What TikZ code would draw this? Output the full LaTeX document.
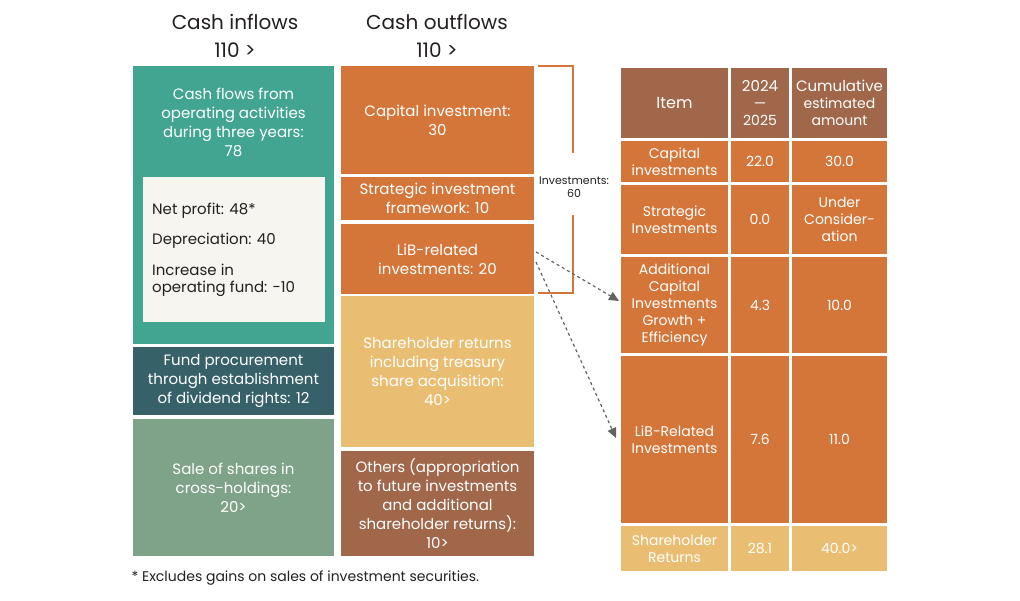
\documentclass[tikz,border=0pt]{standalone}
\usepackage{fontspec}
\setmainfont{Poppins}
\usetikzlibrary{arrows.meta}
\definecolor{teal1}{HTML}{42A592}
\definecolor{dteal}{HTML}{376169}
\definecolor{sage}{HTML}{7FA388}
\definecolor{orng}{HTML}{D4763A}
\definecolor{sand}{HTML}{E9BE72}
\definecolor{brwn}{HTML}{A0674B}
\definecolor{cream}{HTML}{F7F5EF}
\definecolor{ink}{HTML}{231F20}
\tikzset{
 box/.style={draw=none,inner sep=0pt,text=white,align=center,font=\fontsize{15}{19}\selectfont},
 tbl/.style={inner sep=0pt,text=white,align=center,font=\fontsize{14}{17}\selectfont},
 hdr/.style={text=ink,font=\fontsize{20}{24}\selectfont},
 darr/.style={draw=ink!70,dashed,line width=1.2pt,-{Triangle[length=10pt,width=9pt]}}
}
\newcommand{\bx}[6]{\fill[#5] (#1,#2) rectangle (#3,#4);\node[box] at ({(#1+#3)/2},{(#2+#4)/2}) {#6};}
\newcommand{\tb}[6]{\fill[#5] (#1,#2) rectangle (#3,#4);\node[tbl] at ({(#1+#3)/2},{(#2+#4)/2}) {#6};}
\begin{document}
\begin{tikzpicture}[x=1pt,y=-1pt]
\useasboundingbox (0,0) rectangle (1020,600);
\node[hdr] (hin) at (235,22) {Cash inflows};
\node[hdr] (hin2) at (235,50) {110 >};
\node[hdr] (hout) at (437,22) {Cash outflows};
\node[hdr] (hout2) at (437,50) {110 >};
% left column
\fill[teal1] (133,66) rectangle (334,344);
\node[box] (op) at (233.5,122) {Cash flows from\\operating activities\\during three years:\\78};
\fill[cream] (143,177) rectangle (325,322);
\node[box,text=ink,align=left,anchor=west,font=\fontsize{15}{17}\selectfont] (np) at (152,211) {Net profit: 48*};
\node[box,text=ink,align=left,anchor=west,font=\fontsize{15}{17}\selectfont] (dp) at (152,241) {Depreciation: 40};
\node[box,text=ink,align=left,anchor=west,font=\fontsize{15}{17}\selectfont] (inc) at (152,280) {Increase in\\operating fund: -10};
\bx{133}{347}{334}{415}{dteal}{Fund procurement\\through establishment\\of dividend rights: 12}
\bx{133}{419}{334}{556}{sage}{Sale of shares in\\cross-holdings:\\20>}
% right column
\bx{341}{66}{534}{174}{orng}{Capital investment:\\30}
\bx{341}{177}{534}{220}{orng}{Strategic investment\\framework: 10}
\bx{341}{224}{534}{294}{orng}{LiB-related\\investments: 20}
\coordinate (lib1) at (536,252);
\coordinate (lib2) at (536,262);
\bx{341}{296}{534}{447}{sand}{Shareholder returns\\including treasury\\share acquisition:\\40>}
\bx{341}{451}{534}{556}{brwn}{Others (appropriation\\to future investments\\and additional\\shareholder returns):\\10>}
% bracket
\draw[orng,line width=2pt] (538,66) -- (573,66) -- (573,153);
\draw[orng,line width=2pt] (573,215) -- (573,293) -- (538,293);
\node[text=ink,align=center,font=\fontsize{11}{13}\selectfont] (inv) at (574,187) {Investments:\\60};
% table
\tb{621}{68}{728}{138}{brwn}{\fontsize{16}{20}\selectfont Item}
\tb{731}{68}{789}{138}{brwn}{\fontsize{15}{21}\selectfont 2024\\—\\2025}
\tb{792}{68}{887}{138}{brwn}{\fontsize{15}{21}\selectfont Cumulative\\estimated\\amount}
\tb{621}{141}{728}{182}{orng}{Capital\\investments}
\tb{731}{141}{789}{182}{orng}{22.0}
\tb{792}{141}{887}{182}{orng}{30.0}
\tb{621}{185}{728}{254}{orng}{Strategic\\Investments}
\tb{731}{185}{789}{254}{orng}{0.0}
\tb{792}{185}{887}{254}{orng}{Under\\Consider-\\ation}
\tb{621}{257}{728}{353}{orng}{Additional\\Capital\\Investments\\Growth +\\Efficiency}
\tb{731}{257}{789}{353}{orng}{4.3}
\tb{792}{257}{887}{353}{orng}{10.0}
\tb{621}{356}{728}{523}{orng}{LiB-Related\\Investments}
\tb{731}{356}{789}{523}{orng}{7.6}
\tb{792}{356}{887}{523}{orng}{11.0}
\tb{621}{526}{728}{571}{sand}{Shareholder\\Returns}
\tb{731}{526}{789}{571}{sand}{28.1}
\tb{792}{526}{887}{571}{sand}{40.0>}
\coordinate (t1) at (619,301);
\coordinate (t2) at (616,438);
\draw[darr] (lib1) -- (t1);
\draw[darr] (lib2) -- (t2);
\node[anchor=west,text=ink,font=\fontsize{14}{17}\selectfont] (fn) at (128,578) {* Excludes gains on sales of investment securities.};
\end{tikzpicture}
\end{document}
